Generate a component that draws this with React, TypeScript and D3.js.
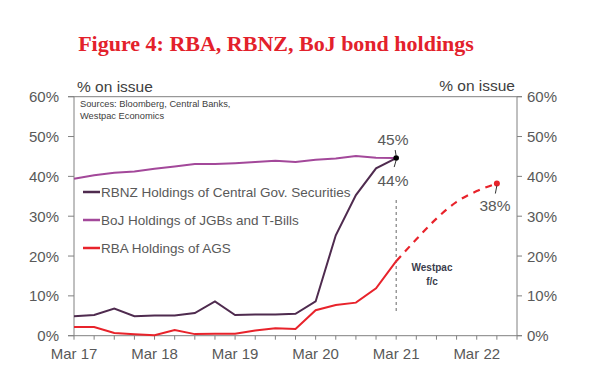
import React from "react";
import * as d3 from "d3";

// quarterly, Mar 17 .. Sep 22
const quarters = [
  "Mar 17", "Jun 17", "Sep 17", "Dec 17",
  "Mar 18", "Jun 18", "Sep 18", "Dec 18",
  "Mar 19", "Jun 19", "Sep 19", "Dec 19",
  "Mar 20", "Jun 20", "Sep 20", "Dec 20",
  "Mar 21", "Jun 21", "Sep 21", "Dec 21",
  "Mar 22", "Jun 22", "Sep 22",
];
const yearLabels = ["Mar 17", "Mar 18", "Mar 19", "Mar 20", "Mar 21", "Mar 22"];
const yTicks = [0, 10, 20, 30, 40, 50, 60];

// % on issue, Mar 17 .. Mar 21
const rbnz = [4.9, 5.2, 6.8, 4.9, 5.1, 5.1, 5.7, 8.6, 5.2, 5.3, 5.3, 5.5, 8.6, 25.2, 35.3, 42.0, 44.6];
const boj = [39.4, 40.3, 40.9, 41.2, 41.9, 42.5, 43.1, 43.1, 43.3, 43.6, 43.9, 43.6, 44.2, 44.5, 45.1, 44.7, 44.6];
const rba = [2.2, 2.2, 0.7, 0.35, 0.1, 1.4, 0.4, 0.5, 0.5, 1.3, 1.9, 1.7, 6.4, 7.7, 8.3, 11.9, 18.7];
// Westpac forecast, Mar 21 .. Jun 22
const rbaForecast = [18.7, 24.2, 29.4, 33.6, 36.3, 38.2];
const forecastStart = 16;

const legendItems = [
  { name: "RBNZ Holdings of Central Gov. Securities", color: "#4f2b4f" },
  { name: "BoJ Holdings of JGBs and T-Bills", color: "#a3489a" },
  { name: "RBA Holdings of AGS", color: "#e8232b" },
];

const W = 600;
const H = 386;
const left = 74;
const right = 517;
const top = 96.7;
const bottom = 335.7;
const textColor = "#595959";
const axisColor = "#808080";
const font = "'Liberation Sans', Arial, sans-serif";

const App = () => {
  const x = d3.scaleLinear().domain([0, quarters.length - 1]).range([left, right]);
  const y = d3.scaleLinear().domain([0, 60]).range([bottom, top]);

  const line = d3
    .line<number>()
    .x((d, i) => x(i))
    .y((d) => y(d));
  const fLine = d3
    .line<number>()
    .x((d, i) => x(i + forecastStart))
    .y((d) => y(d))
    .curve(d3.curveMonotoneX);

  const last = rbnz.length - 1;
  const fLast = rbaForecast.length - 1;
  const fx = x(fLast + forecastStart);
  const fy = y(rbaForecast[fLast]);

  return (
    <svg
      width={W}
      height={H}
      style={{ position: "absolute", left: 0, top: 0, background: "#fff" }}
      fontFamily={font}
    >
      <text
        x={276}
        y={51}
        textAnchor="middle"
        fontFamily="'Liberation Serif', 'Times New Roman', serif"
        fontWeight="bold"
        fontSize={22}
        fill="#e3212b"
      >
        Figure 4: RBA, RBNZ, BoJ bond holdings
      </text>

      <text x={77} y={92} fontSize={15.5} fill="#404040">% on issue</text>
      <text x={515} y={91} fontSize={15.5} fill="#404040" textAnchor="end">% on issue</text>

      {/* frame */}
      <line x1={left - 6} x2={right + 5} y1={y(60)} y2={y(60)} stroke={axisColor} />
      <line x1={left - 6} x2={right + 5} y1={y(0)} y2={y(0)} stroke={axisColor} />
      <line x1={left} x2={left} y1={y(60)} y2={y(0)} stroke={axisColor} />
      <line x1={right} x2={right} y1={y(60)} y2={y(0)} stroke={axisColor} />

      {yTicks.map((t) => (
        <g key={t}>
          <line x1={left - 6} x2={left} y1={y(t)} y2={y(t)} stroke={axisColor} />
          <line x1={right} x2={right + 5} y1={y(t)} y2={y(t)} stroke={axisColor} />
          <text x={59} y={y(t) + 5.5} textAnchor="end" fontSize={15} fill={textColor}>
            {t}%
          </text>
          <text x={527} y={y(t) + 5.5} fontSize={15} fill={textColor}>
            {t}%
          </text>
        </g>
      ))}

      {quarters.map((q, i) => (
        <line key={q} x1={x(i)} x2={x(i)} y1={y(0)} y2={y(0) + 4} stroke={axisColor} />
      ))}
      {yearLabels.map((q) => (
        <text
          key={q}
          x={x(quarters.indexOf(q))}
          y={359}
          textAnchor="middle"
          fontSize={15}
          fill={textColor}
        >
          {q}
        </text>
      ))}

      <text x={80} y={107} fontSize={9.3} fill="#404040">Sources: Bloomberg, Central Banks,</text>
      <text x={80} y={119} fontSize={9.3} fill="#404040">Westpac Economics</text>

      {legendItems.map((l, i) => (
        <g key={l.name} transform={`translate(83, ${192 + i * 28})`}>
          <line x1={0} x2={17} y1={0} y2={0} stroke={l.color} strokeWidth={2.5} />
          <text x={18} y={5} fontSize={13.5} fill={textColor}>
            {l.name}
          </text>
        </g>
      ))}

      {/* forecast divider */}
      <line
        x1={x(forecastStart)}
        x2={x(forecastStart)}
        y1={200}
        y2={313}
        stroke="#404040"
        strokeWidth={0.8}
        strokeDasharray="3,3"
      />
      <text x={432} y={271} textAnchor="middle" fontSize={10} fontWeight="bold" fill="#3a3d4d">
        Westpac
      </text>
      <text x={432} y={285} textAnchor="middle" fontSize={10} fontWeight="bold" fill="#3a3d4d">
        f/c
      </text>

      <path d={line(boj) ?? ""} fill="none" stroke={legendItems[1].color} strokeWidth={2} />
      <path d={line(rbnz) ?? ""} fill="none" stroke={legendItems[0].color} strokeWidth={2} />
      <path d={line(rba) ?? ""} fill="none" stroke={legendItems[2].color} strokeWidth={2} />
      <path
        d={fLine(rbaForecast) ?? ""}
        fill="none"
        stroke={legendItems[2].color}
        strokeWidth={2.2}
        strokeDasharray="7,6"
      />

      {/* end labels */}
      <circle cx={x(last)} cy={y(rbnz[last])} r={2.8} fill="#000" />
      <line x1={x(last) - 1} y1={y(rbnz[last]) - 8} x2={x(last)} y2={y(rbnz[last]) - 2} stroke="#333" />
      <line x1={x(last)} y1={y(rbnz[last]) + 2} x2={x(last) - 2} y2={y(rbnz[last]) + 9} stroke="#333" />
      <text x={393} y={145} textAnchor="middle" fontSize={15.5} fill={textColor}>45%</text>
      <text x={393} y={186} textAnchor="middle" fontSize={15.5} fill={textColor}>44%</text>

      <circle cx={fx} cy={fy} r={3} fill={legendItems[2].color} />
      <line x1={fx} y1={fy + 2} x2={fx - 1.5} y2={fy + 10} stroke="#333" />
      <text x={495} y={211} textAnchor="middle" fontSize={15.5} fill={textColor}>38%</text>
    </svg>
  );
};

export default App;
